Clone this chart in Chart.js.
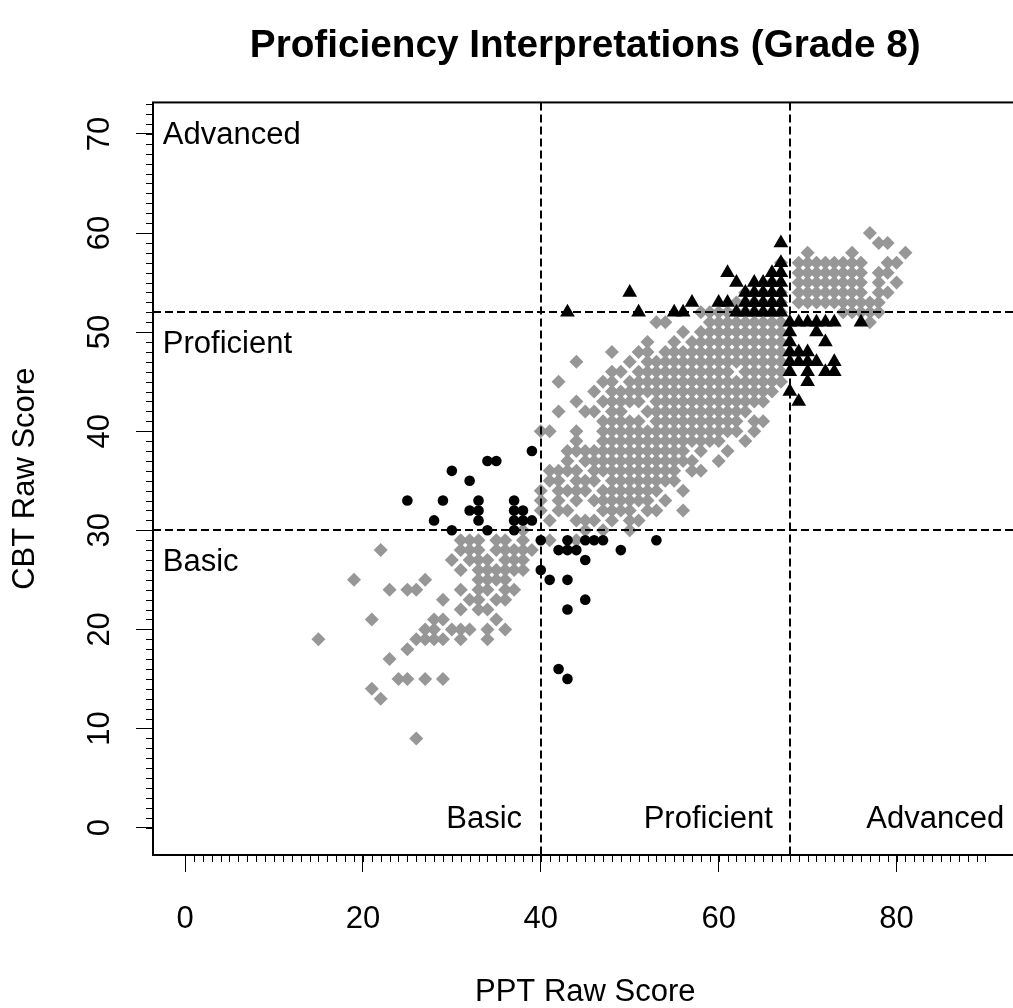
<!DOCTYPE html>
<html>
<head>
<meta charset="utf-8">
<script src="https://cdn.jsdelivr.net/npm/chart.js@4.4.1/dist/chart.umd.min.js"></script>
<style>
  html, body { margin: 0; padding: 0; background: #fff; overflow: hidden; }
  #wrap { width: 1026px; height: 1008px; }
</style>
</head>
<body>
<div id="wrap"><canvas id="c" width="1026" height="1008"></canvas></div>
<script>
// ---------- DATA ----------
const chartTitle = 'Proficiency Interpretations (Grade 8)';
const xTitle = 'PPT Raw Score';
const yTitle = 'CBT Raw Score';
const xTickLabels = [0, 20, 40, 60, 80];
const yTickLabels = [0, 10, 20, 30, 40, 50, 60, 70];
const pptCuts = [40, 68];   // vertical dashed lines
const cbtCuts = [30, 52];   // horizontal dashed lines
const levelNames = ['Basic', 'Proficient', 'Advanced'];

// grey diamonds (consistent classification): one row per CBT score
const grayRowY = [60, 59, 58, 57, 56, 55, 54, 53, 52, 51, 50, 49, 48, 47, 46, 45, 44, 43, 42, 41,
                  40, 39, 38, 37, 36, 35, 34, 33, 32, 31, 30, 29, 28, 27, 26, 25, 24, 23, 22, 21,
                  20, 19, 18, 17, 15, 14, 13, 9];
const grayRowX = [
  [77],
  [78, 79],
  [70, 75, 81],
  [67, 69, 70, 71, 72, 73, 74, 75, 76, 79, 80],
  [69, 70, 71, 72, 73, 74, 75, 76, 78, 79],
  [66, 69, 70, 71, 72, 73, 74, 75, 76, 78, 80],
  [63, 65, 67, 69, 70, 71, 72, 73, 74, 75, 76, 78, 79],
  [62, 63, 64, 65, 66, 67, 69, 70, 71, 72, 73, 74, 75, 76, 77, 78],
  [58, 59, 60, 61, 62, 63, 64, 65, 66, 67, 74, 75, 76, 77, 78],
  [53, 54, 59, 60, 61, 62, 63, 64, 65, 66, 67, 77],
  [56, 58, 59, 60, 61, 62, 63, 64, 65, 66, 67],
  [52, 55, 57, 58, 59, 60, 61, 62, 63, 64, 65, 66, 67],
  [48, 51, 52, 54, 55, 56, 57, 58, 59, 60, 61, 62, 63, 64, 65, 66, 67],
  [44, 50, 52, 53, 54, 55, 56, 57, 58, 59, 60, 61, 62, 63, 64, 65, 66, 67],
  [48, 49, 51, 52, 53, 54, 55, 56, 57, 58, 59, 60, 61, 63, 64, 65, 66, 67],
  [42, 47, 48, 50, 51, 52, 53, 54, 55, 56, 57, 58, 59, 60, 61, 62, 63, 64, 65, 66, 67],
  [46, 48, 49, 50, 51, 52, 53, 54, 55, 56, 57, 58, 59, 60, 61, 62, 63, 64, 65, 66],
  [44, 47, 48, 49, 50, 51, 53, 54, 55, 56, 57, 58, 59, 60, 61, 62, 63, 64, 65],
  [42, 45, 46, 48, 49, 52, 53, 54, 55, 56, 57, 58, 59, 60, 61, 62, 63],
  [47, 48, 49, 50, 51, 53, 54, 55, 56, 57, 58, 59, 60, 61, 62, 64, 65],
  [40, 41, 44, 47, 48, 49, 50, 51, 52, 53, 54, 55, 56, 57, 58, 59, 60, 61, 62, 64],
  [44, 47, 48, 49, 50, 51, 52, 53, 54, 55, 56, 57, 58, 59, 60, 63],
  [43, 44, 45, 46, 47, 48, 49, 50, 51, 52, 53, 54, 55, 56, 58, 61],
  [43, 45, 46, 47, 48, 49, 50, 51, 52, 53, 54, 55, 56, 57, 60],
  [41, 42, 43, 44, 46, 47, 48, 49, 50, 51, 52, 53, 54, 55, 57, 58],
  [41, 42, 44, 45, 46, 48, 49, 50, 51, 52, 53, 54, 55],
  [40, 42, 43, 44, 45, 47, 48, 49, 50, 51, 52, 53, 56],
  [40, 42, 44, 46, 47, 48, 49, 50, 51, 52, 54],
  [40, 42, 43, 47, 48, 49, 50, 52, 53, 56],
  [41, 44, 45, 46, 48, 50, 51],
  [38, 45, 47, 50],
  [31, 32, 33, 35, 36, 38, 41, 44],
  [22, 31, 32, 33, 35, 36, 37, 38, 39],
  [30, 32, 33, 34, 36, 37, 38],
  [31, 33, 34, 35, 36, 37, 38],
  [19, 27, 33, 34, 35, 36],
  [23, 25, 26, 31, 33, 34, 36, 37],
  [29, 32, 33, 35, 36],
  [31, 33, 34],
  [21, 28, 29, 35],
  [27, 28, 30, 31, 32, 34, 36],
  [15, 26, 27, 28, 29, 31, 34],
  [25],
  [23],
  [24, 25, 27, 29],
  [21],
  [22],
  [26]
];

// black circles
const circleX = [25, 28, 29, 30, 30, 32, 32, 33, 33, 33, 34, 35, 34, 37, 37, 38, 37, 38, 39, 37, 39,
                 40, 40, 41, 43, 42, 43, 44, 43, 45, 46, 47, 49, 53, 45, 45, 43, 42, 43];
const circleY = [33, 31, 33, 36, 30, 35, 32, 33, 32, 31, 37, 37, 30, 33, 32, 32, 31, 31, 31, 30, 38,
                 29, 26, 25, 25, 28, 28, 28, 29, 29, 29, 29, 28, 29, 27, 23, 22, 16, 15];

// black triangles
const triX = [43, 50, 51, 55, 56, 57, 60, 61, 61, 62, 64, 66, 67, 67,
              62, 63, 64, 65, 66, 67, 63, 64, 65, 66, 67, 63, 64, 65, 66, 67, 65, 66, 67, 67,
              68, 68, 68, 68, 68, 68, 68, 69, 69, 69, 69, 70, 70, 70, 70, 70, 71, 71, 71,
              72, 72, 72, 73, 73, 73, 76];
const triY = [52, 54, 52, 52, 52, 53, 53, 53, 56, 55, 55, 56, 57, 59,
              52, 52, 52, 52, 52, 52, 53, 53, 53, 53, 53, 54, 54, 54, 54, 54, 55, 55, 55, 56,
              44, 47, 48, 49, 50, 51, 46, 43, 47, 48, 51, 45, 46, 47, 48, 51, 47, 50, 51,
              46, 49, 51, 46, 47, 51, 51];

// ---------- BUILD ----------
const grayPts = [];
grayRowY.forEach((y, i) => grayRowX[i].forEach(x => grayPts.push({x, y})));
const circlePts = circleX.map((x, i) => ({x, y: circleY[i]}));
const triPts = triX.map((x, i) => ({x, y: triY[i]}));

const FONT = '"Liberation Sans", Arial, sans-serif';

const decorPlugin = {
  id: 'decor',
  afterDatasetsDraw(chart) {
    const {ctx, chartArea: a, scales: {x, y}} = chart;
    ctx.save();
    // dashed cut lines
    ctx.strokeStyle = '#000';
    ctx.lineWidth = 2;
    ctx.setLineDash([8, 4]);
    pptCuts.forEach(v => {
      const px = Math.round(x.getPixelForValue(v));
      ctx.beginPath(); ctx.moveTo(px, a.top); ctx.lineTo(px, a.bottom); ctx.stroke();
    });
    cbtCuts.forEach(v => {
      const py = Math.round(y.getPixelForValue(v));
      ctx.beginPath(); ctx.moveTo(a.left, py); ctx.lineTo(a.right, py); ctx.stroke();
    });
    ctx.setLineDash([]);
    // box
    ctx.lineWidth = 2;
    ctx.strokeRect(a.left, a.top, a.right - a.left, a.bottom - a.top);
    // minor ticks
    ctx.lineWidth = 1;
    ctx.beginPath();
    for (let v = 0; v <= 90; v++) {
      const px = Math.round(x.getPixelForValue(v)) + 0.5;
      ctx.moveTo(px, a.bottom); ctx.lineTo(px, a.bottom + 7);
    }
    for (let v = 0; v <= 73; v++) {
      const py = Math.round(y.getPixelForValue(v)) + 0.5;
      ctx.moveTo(a.left, py); ctx.lineTo(a.left - 7, py);
    }
    ctx.stroke();
    // level labels
    ctx.fillStyle = '#000';
    ctx.font = '31px ' + FONT;
    ctx.textBaseline = 'middle';
    ctx.textAlign = 'left';
    const leftLabelY = [26.8, 48.8, 69.8];
    levelNames.forEach((t, i) => {
      ctx.fillText(t, x.getPixelForValue(-2.5), y.getPixelForValue(leftLabelY[i]));
    });
    ctx.textAlign = 'right';
    const bottomLabelX = [37.9, 66.1, 92.1];
    levelNames.forEach((t, i) => {
      ctx.fillText(t, x.getPixelForValue(bottomLabelX[i]), y.getPixelForValue(0.8));
    });
    ctx.restore();
  }
};

new Chart(document.getElementById('c'), {
  type: 'scatter',
  data: {
    datasets: [
      { label: 'PPT Advanced / CBT Proficient', data: triPts, pointStyle: 'triangle', pointRadius: 8.5,
        pointHoverRadius: 8.5, backgroundColor: '#000', borderColor: '#000', borderWidth: 0, order: 0 },
      { label: 'CBT Basic / PPT Proficient', data: circlePts, pointStyle: 'circle', pointRadius: 5.3,
        pointHoverRadius: 5.3, backgroundColor: '#000', borderColor: '#000', borderWidth: 0, order: 1 },
      { label: 'Consistent', data: grayPts, pointStyle: 'rectRot', pointRadius: 7,
        pointHoverRadius: 7, backgroundColor: '#979797', borderColor: '#979797', borderWidth: 0, order: 2 }
    ]
  },
  options: {
    responsive: false,
    animation: false,
    devicePixelRatio: 1,
    events: [],
    layout: { padding: 0 },
    plugins: {
      legend: { display: false },
      tooltip: { enabled: false },
      title: {
        display: true, text: chartTitle, color: '#000', fullSize: false,
        font: { family: FONT, size: 38.7, weight: 'bold' },
        padding: { top: 23, bottom: 33 }
      }
    },
    scales: {
      x: {
        type: 'linear', position: 'bottom', min: -3.6, max: 93.6,
        afterFit(s) { s.height = 153; },
        afterBuildTicks(s) { s.ticks = xTickLabels.map(v => ({ value: v })); },
        ticks: { color: '#000', font: { family: FONT, size: 31 }, padding: 29, maxRotation: 0, autoSkip: false },
        grid: { drawOnChartArea: false, drawTicks: true, tickLength: 17, tickColor: '#000', tickWidth: 1 },
        border: { display: false },
        title: { display: true, text: xTitle, color: '#000', font: { family: FONT, size: 31 }, padding: { top: 0, bottom: -3 } }
      },
      y: {
        type: 'linear', position: 'left', min: -2.77, max: 73.18,
        afterFit(s) { s.width = 153; },
        afterBuildTicks(s) { s.ticks = yTickLabels.map(v => ({ value: v })); },
        ticks: { color: '#000', font: { family: FONT, size: 31 }, padding: 18, minRotation: 90, maxRotation: 90,
                 crossAlign: 'center', autoSkip: false },
        grid: { drawOnChartArea: false, drawTicks: true, tickLength: 17, tickColor: '#000', tickWidth: 1 },
        border: { display: false },
        title: { display: true, text: yTitle, color: '#000', font: { family: FONT, size: 31 }, padding: { top: 7, bottom: 0 } }
      }
    }
  },
  plugins: [decorPlugin]
});
</script>
</body>
</html>
